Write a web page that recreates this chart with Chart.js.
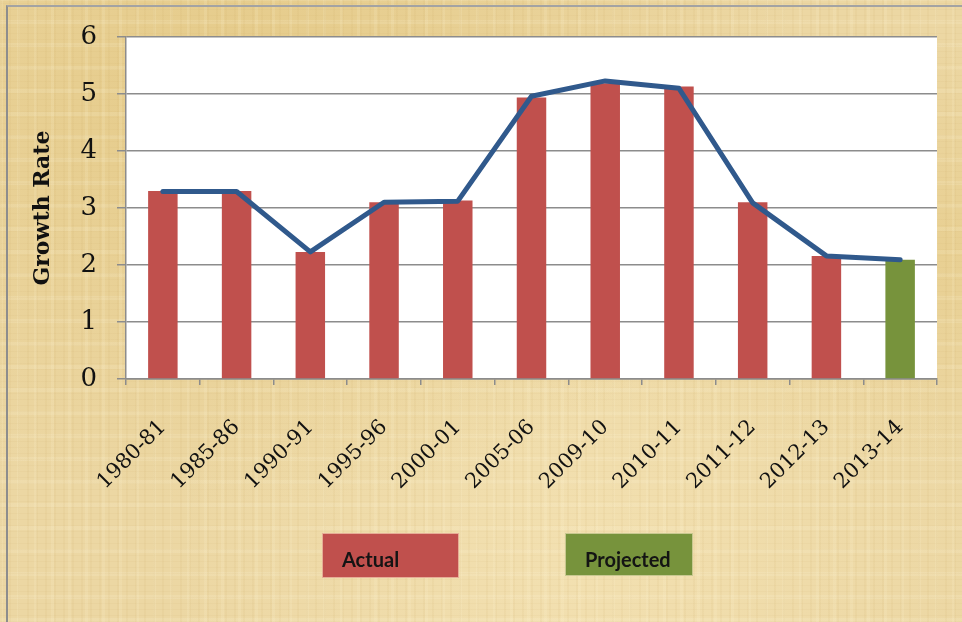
<!DOCTYPE html>
<html>
<head>
<meta charset="utf-8">
<title>Growth Rate</title>
<script src="https://cdn.jsdelivr.net/npm/chart.js@4.4.1/dist/chart.umd.min.js"></script>
<style>
    html, body { margin: 0; padding: 0; }
    #wrap {
        position: relative;
        width: 962px;
        height: 622px;
        overflow: hidden;
        background-color: #ecd7a3;
        background-image:
            repeating-linear-gradient(90deg, rgba(196, 160, 88, 0.08) 0 2px, transparent 2px 9px),
            repeating-linear-gradient(90deg, rgba(255, 246, 214, 0.14) 0 3px, transparent 3px 17px),
            repeating-linear-gradient(0deg, rgba(190, 150, 80, 0.06) 0 1px, transparent 1px 6px),
            repeating-linear-gradient(0deg, rgba(255, 248, 222, 0.14) 0 4px, transparent 4px 23px),
            radial-gradient(ellipse at 25% 15%, rgba(222, 190, 110, 0.5), transparent 55%),
            radial-gradient(ellipse at 60% 90%, rgba(248, 232, 188, 0.55), transparent 50%),
            radial-gradient(ellipse at 95% 40%, rgba(226, 196, 120, 0.4), transparent 40%);
    }
    #frame {
        position: absolute;
        left: 6px;
        top: 5px;
        right: 0;
        bottom: 0;
        border-left: 2px solid #8d8d8d;
        border-top: 2px solid #a3a3a3;
        pointer-events: none;
    }
    canvas { position: absolute; left: 0; top: 0; }
</style>
</head>
<body>
<div id="wrap">
    <canvas id="growthChart" width="962" height="622"></canvas>
    <div id="frame"></div>
</div>
<script>
// Growth rate per period
const periods = ['1980-81', '1985-86', '1990-91', '1995-96', '2000-01', '2005-06',
                 '2009-10', '2010-11', '2011-12', '2012-13', '2013-14'];
const growthRate = [3.30, 3.30, 2.23, 3.10, 3.13, 4.94, 5.19, 5.13, 3.10, 2.16, 2.09];
const trendLine  = [3.29, 3.29, 2.23, 3.10, 3.12, 4.96, 5.23, 5.10, 3.09, 2.16, 2.09];
const status     = ['Actual', 'Actual', 'Actual', 'Actual', 'Actual', 'Actual',
                    'Actual', 'Actual', 'Actual', 'Actual', 'Projected'];
const legendLabels = ['Actual', 'Projected'];
const yTicks = [0, 1, 2, 3, 4, 5, 6];

const statusColors = { 'Actual': '#c0504d', 'Projected': '#77933c' };
const gridGrey = '#8c8c8c';
const serif = '"DejaVu Serif", "Liberation Serif", serif';

// White plot background behind the bars
const plotBackground = {
    id: 'plotBackground',
    beforeDraw(chart) {
        const { ctx, chartArea: a } = chart;
        ctx.save();
        ctx.fillStyle = '#ffffff';
        ctx.fillRect(a.left, a.top, a.right - a.left, a.bottom - a.top);
        ctx.restore();
    }
};

// Coloured legend blocks with the label written inside
const blockLegend = {
    id: 'blockLegend',
    afterDraw(chart) {
        const ctx = chart.ctx;
        const boxes = [
            { x: 322, y: 533, w: 137, h: 45 },
            { x: 565, y: 533, w: 128, h: 43 }
        ];
        ctx.save();
        legendLabels.forEach((label, i) => {
            const b = boxes[i];
            ctx.fillStyle = statusColors[label];
            ctx.fillRect(b.x, b.y, b.w, b.h);
            ctx.strokeStyle = 'rgba(255,235,200,0.6)';
            ctx.lineWidth = 1;
            ctx.strokeRect(b.x + 0.5, b.y + 0.5, b.w - 1, b.h - 1);
            ctx.fillStyle = '#141414';
            ctx.font = 'bold 20px Lato, "Open Sans", sans-serif';
            ctx.textBaseline = 'alphabetic';
            ctx.textAlign = 'left';
            ctx.fillText(label, b.x + 20, b.y + 34);
        });
        ctx.restore();
    }
};

const ctx = document.getElementById('growthChart').getContext('2d');
const growthChart = new Chart(ctx, {
    data: {
        labels: periods,
        datasets: [
            {
                type: 'line',
                label: 'Trend',
                data: trendLine,
                borderColor: '#30598c',
                borderWidth: 5,
                pointRadius: 0,
                tension: 0,
                borderCapStyle: 'round',
                borderJoinStyle: 'round',
                fill: false,
                order: 1
            },
            {
                type: 'bar',
                label: 'Growth Rate',
                data: growthRate,
                backgroundColor: status.map(s => statusColors[s]),
                barPercentage: 0.8,
                categoryPercentage: 0.5,
                order: 2
            }
        ]
    },
    options: {
        responsive: false,
        animation: false,
        layout: { padding: { top: 37, right: 25, left: 0, bottom: 0 } },
        plugins: {
            legend: { display: false },
            tooltip: { enabled: false }
        },
        scales: {
            x: {
                type: 'category',
                offset: true,
                grid: {
                    offset: true,
                    drawOnChartArea: false,
                    drawTicks: true,
                    tickLength: 6,
                    color: gridGrey,
                    lineWidth: 1.5
                },
                border: { color: gridGrey, width: 1.5 },
                ticks: {
                    autoSkip: false,
                    minRotation: 45,
                    maxRotation: 45,
                    padding: 30,
                    color: '#111',
                    font: { family: serif, size: 21 }
                },
                afterFit(scale) { scale.height = 243; }
            },
            y: {
                min: 0,
                max: 6,
                afterBuildTicks(scale) { scale.ticks = yTicks.map(v => ({ value: v })); },
                grid: {
                    color: gridGrey,
                    lineWidth: 1.5,
                    tickLength: 9
                },
                border: { color: gridGrey, width: 1.5 },
                ticks: {
                    padding: 20,
                    color: '#111',
                    font: { family: serif, size: 26 }
                },
                title: {
                    display: true,
                    text: 'Growth Rate',
                    color: '#111',
                    padding: { top: 30, bottom: 0 },
                    font: { family: serif, size: 22, weight: 'bold' }
                },
                afterFit(scale) { scale.width = 126; }
            }
        }
    },
    plugins: [plotBackground, blockLegend]
});
</script>
</body>
</html>
